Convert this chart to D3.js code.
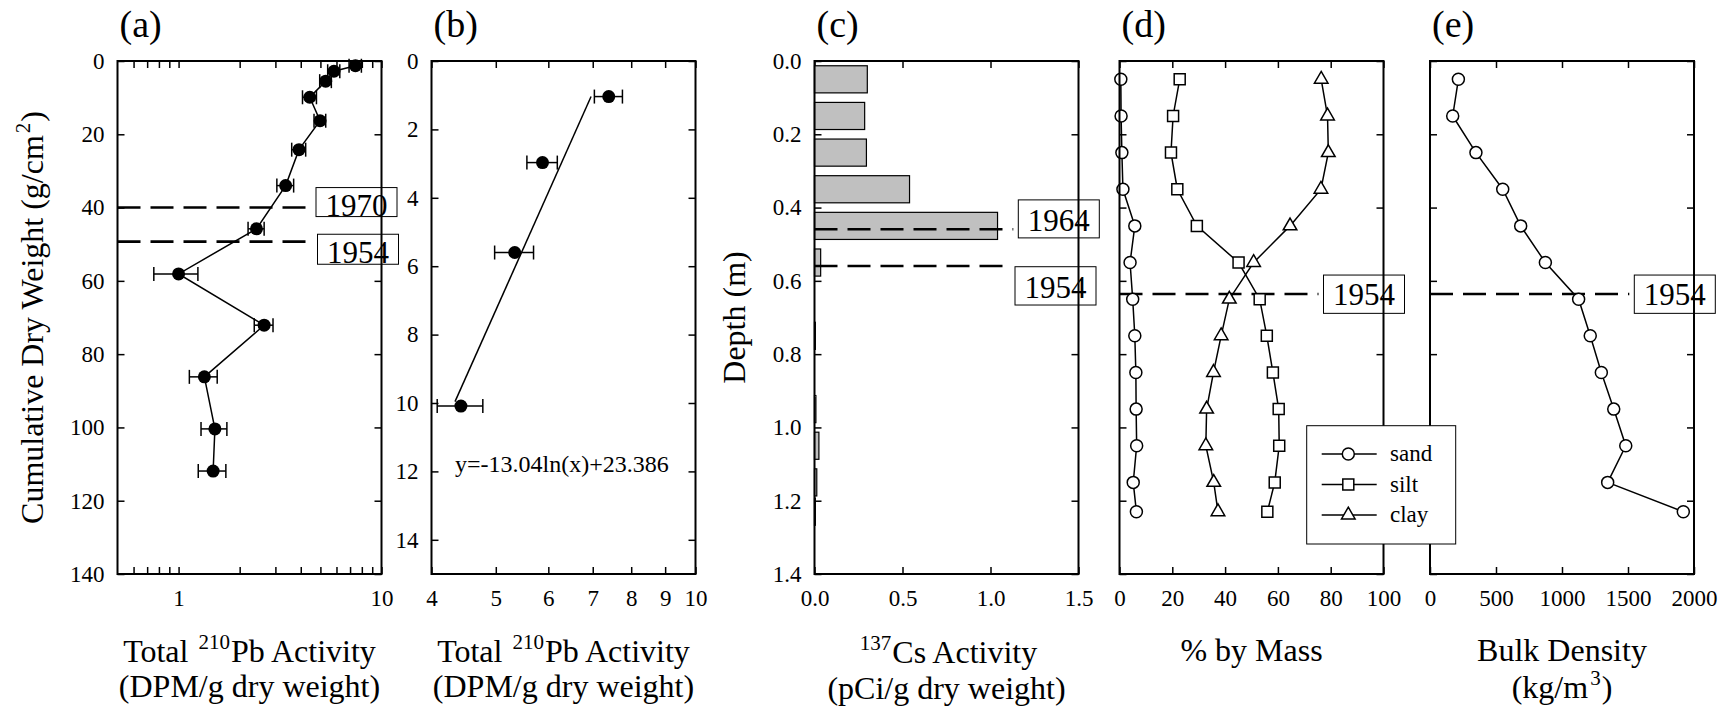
<!DOCTYPE html>
<html>
<head>
<meta charset="utf-8">
<script src="https://cdn.jsdelivr.net/npm/d3@7/dist/d3.min.js"></script>
<style>
  body { margin: 0; background: #fff; }
  svg { display: block; background: #fff; font-family: 'Liberation Serif', 'Times New Roman', Times, serif; }
  text, tspan { font-family: 'Liberation Serif', 'Times New Roman', Times, serif; fill: #000; }
  .tick text { font-size: 23px; }
</style>
</head>
<body>
<svg id="chart" width="1730" height="710"></svg>
<script>
// ---------- data ----------
// (a) total 210Pb vs cumulative dry weight
const massA = [1.3, 2.8, 5.5, 9.9, 16.3, 24.2, 34.0, 45.8, 58.1, 72.1, 86.2, 100.4, 111.9];
const pbA = [7.44, 5.83, 5.31, 4.43, 4.98, 3.92, 3.37, 2.42, 1.0, 2.64, 1.34, 1.51, 1.48];
const pbErrA = [0.52, 0.4, 0.35, 0.35, 0.33, 0.31, 0.32, 0.22, 0.245, 0.28, 0.21, 0.22, 0.23];
const yearsA = ['1970', '1954'];
const yearMassA = [40, 49.3];
const xTicksA = [0.6, 0.7, 0.8, 0.9, 1, 2, 3, 4, 5, 6, 7, 8, 9, 10];
const xLabelsA = [1, 10];
const yTicksA = [0, 20, 40, 60, 80, 100, 120, 140];

// (b) 210Pb vs depth with log fit
const depthB = [1.04, 2.97, 5.6, 10.09];
const pbB = [7.40, 5.88, 5.34, 4.43];
const pbErrB = [0.36, 0.31, 0.36, 0.35];
const fitPbB = [6.96, 4.34];
const fitDepthB = [1.04, 9.96];
const fitLabelB = 'y=-13.04ln(x)+23.386';
const xTicksB = [4, 5, 6, 7, 8, 9, 10];
const yTicksB = [0, 2, 4, 6, 8, 10, 12, 14];

// (c) 137Cs activity by depth interval
const depthC = [0.05, 0.15, 0.25, 0.35, 0.45, 0.55, 0.65, 0.75, 0.85, 0.95, 1.05, 1.15, 1.23];
const csC = [0.30, 0.285, 0.295, 0.54, 1.04, 0.035, 0, 0.005, 0, 0.008, 0.025, 0.013, 0.005];
const yearsC = ['1964', '1954'];
const yearDepthC = [0.459, 0.5595];
const xTicksC = [0, 0.5, 1.0, 1.5];
const yTicksC = [0, 0.2, 0.4, 0.6, 0.8, 1.0, 1.2, 1.4];

// (d) grain size
const depthD = [0.05, 0.15, 0.25, 0.35, 0.45, 0.55, 0.65, 0.75, 0.85, 0.95, 1.05, 1.15, 1.23];
const sand = [0.5, 0.6, 0.9, 1.3, 5.8, 4.0, 5.0, 5.8, 6.2, 6.3, 6.5, 5.2, 6.4];
const silt = [22.8, 20.3, 19.5, 21.9, 29.3, 45.1, 53.1, 55.8, 58.1, 60.3, 60.5, 58.8, 56.0];
const clay = [76.4, 78.8, 79.1, 76.3, 64.6, 50.8, 41.6, 38.5, 35.6, 33.0, 32.7, 35.7, 37.3];
const seriesD = ['sand', 'silt', 'clay'];
const xTicksD = [0, 20, 40, 60, 80, 100];
const yearsD = ['1954'];
const yearDepthD = [0.636];

// (e) bulk density
const bulk = [215, 172, 348, 551, 687, 874, 1126, 1214, 1298, 1392, 1483, 1346, 1919];
const xTicksE = [0, 500, 1000, 1500, 2000];
const yearsE = ['1954'];
const yearDepthE = [0.636];

// ---------- layout ----------
const FONT = "'Liberation Serif', 'Times New Roman', Times, serif";
const svg = d3.select('#chart');
const TOP = 61;
const W = 264;
const H = 513;
const TICK = 7;
const SUP = 13; // superscript raise

function panel(left) {
  return svg.append('g').attr('transform', `translate(${left},${TOP})`);
}

function axes(g, x, y, o) {
  g.append('g')
    .attr('class', 'axis')
    .attr('transform', `translate(0,${H})`)
    .call(d3.axisBottom(x).tickValues(o.xTicks).tickFormat(o.xFmt)
      .tickSizeInner(-TICK).tickSizeOuter(0).tickPadding(16));
  g.append('g')
    .attr('class', 'axis')
    .call(d3.axisTop(x).tickValues(o.xTicks).tickFormat(() => '')
      .tickSizeInner(-TICK).tickSizeOuter(0));
  g.append('g')
    .attr('class', 'axis')
    .call(d3.axisLeft(y).tickValues(o.yTicks).tickFormat(o.yFmt || (() => ''))
      .tickSizeInner(-TICK).tickSizeOuter(0).tickPadding(13));
  g.append('g')
    .attr('class', 'axis')
    .attr('transform', `translate(${W},0)`)
    .call(d3.axisRight(y).tickValues(o.yTicks).tickFormat(() => '')
      .tickSizeInner(-TICK).tickSizeOuter(0));
  g.selectAll('.axis .domain').remove();
  g.selectAll('.axis line').attr('stroke-width', 1.5);
  g.selectAll('.axis').attr('font-size', null).attr('font-family', null);
  // drop the blank labels of minor / mirrored ticks
  g.selectAll('.tick text')
    .filter(function () { return this.textContent === ''; })
    .remove();
}

function frame(g) {
  g.append('rect')
    .attr('width', W)
    .attr('height', H)
    .attr('fill', 'none')
    .attr('stroke', '#000')
    .attr('stroke-width', 2);
}

// one text element, several lines, with superscripts
// lines = [[[string, isSup], ...], ...]; gap = baseline distance between lines
function richText(g, x, y, lines, size, gap = 30, rotate = false) {
  const t = g.append('text')
    .attr('text-anchor', 'middle')
    .style('font-size', size + 'px');
  let lx = x;
  if (rotate) {
    t.attr('transform', `translate(${x},${y}) rotate(-90)`);
    lx = 0;
  } else {
    t.attr('x', x).attr('y', y);
  }
  let cur = 0;
  lines.forEach((parts, li) => {
    parts.forEach(([s, sup], pi) => {
      const span = t.append('tspan').text(s);
      let dy = 0;
      if (pi === 0 && li > 0) {
        span.attr('x', lx);
        dy += gap - cur;
        cur = 0;
      }
      if (sup) {
        span.style('font-size', Math.round(size * 0.66) + 'px').attr('dx', 2);
        dy -= SUP;
        cur = -SUP;
      } else if (cur !== 0) {
        span.attr('dx', 1);
        dy -= cur;
        cur = 0;
      }
      if (dy) span.attr('dy', dy);
    });
  });
  return t;
}

function panelLabel(g, s) {
  g.append('text').attr('x', 2).attr('y', 37 - TOP).style('font-size', '38px').text(s);
}

// dashed date line plus boxed year label
function dateMark(g, y, depth, year, box) {
  const yy = y(depth);
  g.append('line')
    .attr('x1', 0)
    .attr('x2', box.x - 5)
    .attr('y1', yy)
    .attr('y2', yy)
    .attr('stroke', '#000')
    .attr('stroke-width', 2.6)
    .attr('stroke-dasharray', '23,10');
  const top = yy + box.dy;
  g.append('rect')
    .attr('x', box.x)
    .attr('y', top)
    .attr('width', 81)
    .attr('height', box.h)
    .attr('fill', '#fff')
    .attr('stroke', '#000')
    .attr('stroke-width', 1);
  g.append('text')
    .attr('x', box.x + 40.5)
    .attr('y', top + box.base)
    .attr('text-anchor', 'middle')
    .style('font-size', '31px')
    .text(year);
}

function errorDots(g, x, y, xs, ys, errs) {
  const cap = 7;
  const eb = g.append('g').attr('stroke', '#000').attr('stroke-width', 1.5);
  xs.forEach((v, i) => {
    const yy = y(ys[i]);
    const x0 = x(v - errs[i]);
    const x1 = x(v + errs[i]);
    eb.append('line').attr('x1', x0).attr('x2', x1).attr('y1', yy).attr('y2', yy);
    eb.append('line').attr('x1', x0).attr('x2', x0).attr('y1', yy - cap).attr('y2', yy + cap);
    eb.append('line').attr('x1', x1).attr('x2', x1).attr('y1', yy - cap).attr('y2', yy + cap);
  });
  g.selectAll('.dot')
    .data(xs)
    .enter()
    .append('circle')
    .attr('class', 'dot')
    .attr('cx', (d) => x(d))
    .attr('cy', (d, i) => y(ys[i]))
    .attr('r', 6.5)
    .attr('fill', '#000');
}

const pbTitle = [[['Total ', 0], ['210', 1], ['Pb Activity', 0]], [['(DPM/g dry weight)', 0]]];
const TITLE_GAP = 35.5;

// ---------- (a) ----------
{
  const g = panel(117.5);
  const x = d3.scaleLog().domain([0.5, 10]).range([0, W]);
  const y = d3.scaleLinear().domain([0, 140]).range([0, H]);
  axes(g, x, y, {
    xTicks: xTicksA,
    xFmt: (d) => (xLabelsA.includes(d) ? d : ''),
    yTicks: yTicksA,
    yFmt: (d) => d,
  });
  const line = d3.line().x((d) => x(d)).y((d, i) => y(massA[i]));
  g.append('path').attr('d', line(pbA)).attr('fill', 'none').attr('stroke', '#000').attr('stroke-width', 1.5);
  errorDots(g, x, y, pbA, massA, pbErrA);
  const boxes = [
    { x: 198.5, dy: -20, h: 29, base: 28 },
    { x: 200, dy: -7.4, h: 30, base: 29 },
  ];
  yearsA.forEach((yr, i) => dateMark(g, y, yearMassA[i], yr, boxes[i]));
  frame(g);
  panelLabel(g, '(a)');
  richText(g, W / 2, 661.5 - TOP, pbTitle, 32, TITLE_GAP);
  richText(g, 43 - 117.5, H / 2, [[['Cumulative Dry Weight (g/cm', 0], ['2', 1], [')', 0]]], 32, 30, true);
}

// ---------- (b) ----------
{
  const g = panel(431.5);
  const x = d3.scaleLog().domain([4, 10]).range([0, W]);
  const y = d3.scaleLinear().domain([0, 15]).range([0, H]);
  axes(g, x, y, {
    xTicks: xTicksB,
    xFmt: (d) => d,
    yTicks: yTicksB,
    yFmt: (d) => d,
  });
  const fit = d3.line().x((d) => x(d)).y((d, i) => y(fitDepthB[i]));
  g.append('path').attr('d', fit(fitPbB)).attr('fill', 'none').attr('stroke', '#000').attr('stroke-width', 1.5);
  errorDots(g, x, y, pbB, depthB, pbErrB);
  g.append('text')
    .attr('x', 455 - 431.5)
    .attr('y', 471.5 - TOP)
    .style('font-size', '24px')
    .text(fitLabelB);
  frame(g);
  panelLabel(g, '(b)');
  richText(g, W / 2, 661.5 - TOP, pbTitle, 32, TITLE_GAP);
}

// ---------- (c) ----------
{
  const g = panel(814.5);
  const x = d3.scaleLinear().domain([0, 1.5]).range([0, W]);
  const y = d3.scaleLinear().domain([0, 1.4]).range([0, H]);
  axes(g, x, y, {
    xTicks: xTicksC,
    xFmt: d3.format('.1f'),
    yTicks: yTicksC,
    yFmt: d3.format('.1f'),
  });
  const half = 0.037;
  g.selectAll('.bar')
    .data(csC.map((v, i) => ({ v, d: depthC[i] })).filter((b) => b.v > 0))
    .enter()
    .append('rect')
    .attr('class', 'bar')
    .attr('x', x(0))
    .attr('y', (b) => y(b.d - half))
    .attr('width', (b) => x(b.v) - x(0))
    .attr('height', (b) => y(b.d + half) - y(b.d - half))
    .attr('fill', '#c0c0c0')
    .attr('stroke', '#000')
    .attr('stroke-width', 1.2);
  const boxes = [
    { x: 203.8, dy: -29.3, h: 38, base: 31 },
    { x: 200.5, dy: 0.7, h: 38.3, base: 31 },
  ];
  yearsC.forEach((yr, i) => dateMark(g, y, yearDepthC[i], yr, boxes[i]));
  frame(g);
  panelLabel(g, '(c)');
  richText(g, W / 2, 663 - TOP, [[['137', 1], ['Cs Activity', 0]], [['(pCi/g dry weight)', 0]]], 32, TITLE_GAP);
  richText(g, 745 - 814.5, H / 2, [[['Depth (m)', 0]]], 32, 30, true);
}

// ---------- (d) ----------
const shapesD = { sand: d3.symbolCircle, silt: d3.symbolSquare, clay: d3.symbolTriangle };
const symSizeD = { sand: 113, silt: 121, clay: 80 };
{
  const g = panel(1119.5);
  const x = d3.scaleLinear().domain([0, 100]).range([0, W]);
  const y = d3.scaleLinear().domain([0, 1.4]).range([0, H]);
  axes(g, x, y, {
    xTicks: xTicksD,
    xFmt: (d) => d,
    yTicks: yTicksC,
  });
  const values = { sand, silt, clay };
  const line = d3.line().x((d) => x(d)).y((d, i) => y(depthD[i]));
  seriesD.forEach((name) => {
    g.append('path').attr('d', line(values[name])).attr('fill', 'none').attr('stroke', '#000').attr('stroke-width', 1.5);
  });
  yearsD.forEach((yr, i) => dateMark(g, y, yearDepthD[i], yr, { x: 204, dy: -19, h: 38.3, base: 30 }));
  seriesD.forEach((name) => {
    g.selectAll('.m-' + name)
      .data(values[name])
      .enter()
      .append('path')
      .attr('class', 'm-' + name)
      .attr('transform', (d, i) => `translate(${x(d)},${y(depthD[i])})`)
      .attr('d', d3.symbol().type(shapesD[name]).size(symSizeD[name]))
      .attr('fill', '#fff')
      .attr('stroke', '#000')
      .attr('stroke-width', 1.5);
  });
  frame(g);
  panelLabel(g, '(d)');
  richText(g, W / 2, 660.5 - TOP, [[['% by Mass', 0]]], 32);
}

// ---------- (e) ----------
{
  const g = panel(1430);
  const x = d3.scaleLinear().domain([0, 2000]).range([0, W]);
  const y = d3.scaleLinear().domain([0, 1.4]).range([0, H]);
  axes(g, x, y, {
    xTicks: xTicksE,
    xFmt: (d) => d,
    yTicks: yTicksC,
  });
  const line = d3.line().x((d) => x(d)).y((d, i) => y(depthD[i]));
  g.append('path').attr('d', line(bulk)).attr('fill', 'none').attr('stroke', '#000').attr('stroke-width', 1.5);
  yearsE.forEach((yr, i) => dateMark(g, y, yearDepthE[i], yr, { x: 204.3, dy: -19, h: 38.3, base: 30 }));
  g.selectAll('.m-bulk')
    .data(bulk)
    .enter()
    .append('circle')
    .attr('class', 'm-bulk')
    .attr('cx', (d) => x(d))
    .attr('cy', (d, i) => y(depthD[i]))
    .attr('r', 6)
    .attr('fill', '#fff')
    .attr('stroke', '#000')
    .attr('stroke-width', 1.5);
  frame(g);
  panelLabel(g, '(e)');
  richText(g, W / 2, 660.5 - TOP, [[['Bulk Density', 0]], [['(kg/m', 0], ['3', 1], [')', 0]]], 32, 37.5);
}

// ---------- legend for (d), drawn on top of (e)'s axis ----------
{
  const g = svg.append('g').attr('transform', 'translate(1306.7,425.7)');
  g.append('rect')
    .attr('width', 149)
    .attr('height', 118.3)
    .attr('fill', '#fff')
    .attr('stroke', '#000')
    .attr('stroke-width', 1);
  seriesD.forEach((name, i) => {
    const row = g.append('g').attr('transform', `translate(0,${28.3 + i * 30.5})`);
    row.append('line').attr('x1', 15).attr('x2', 70).attr('stroke', '#000').attr('stroke-width', 1.5);
    row.append('path')
      .attr('transform', 'translate(41.6,0)')
      .attr('d', d3.symbol().type(shapesD[name]).size(symSizeD[name]))
      .attr('fill', '#fff')
      .attr('stroke', '#000')
      .attr('stroke-width', 1.5);
    row.append('text')
      .attr('x', 83.3)
      .attr('dy', '0.32em')
      .style('font-size', '23px')
      .text(name);
  });
}

svg.selectAll('text').style('font-family', FONT);
</script>
</body>
</html>
